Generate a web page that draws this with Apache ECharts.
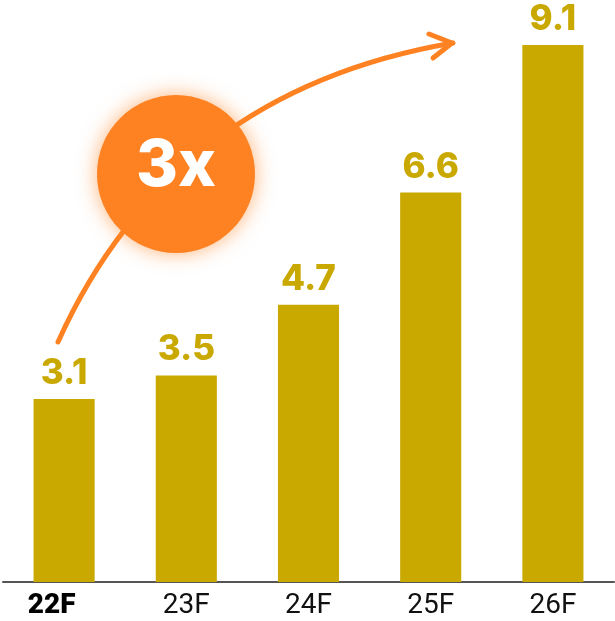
<!DOCTYPE html>
<html>
<head>
<meta charset="utf-8">
<script src="https://cdn.jsdelivr.net/npm/echarts@6/dist/echarts.min.js"></script>
<style>
  html, body { margin: 0; padding: 0; background: #fff; }
  #chart { width: 615px; height: 621px; }
</style>
</head>
<body>
<div id="chart"></div>
<script>
// years (forecast)
const years = ['22F', '23F', '24F', '25F', '26F'];
// values
const values = [3.1, 3.5, 4.7, 6.6, 9.1];
const growthText = '3x';

const gold = '#C9A800';
const orange = '#FF8222';

const chart = echarts.init(document.getElementById('chart'));

const option = {
  animation: false,
  grid: { left: 3, right: 1, top: 45, bottom: 39 },
  xAxis: {
    type: 'category',
    data: years,
    axisTick: { show: false },
    axisLine: { lineStyle: { color: '#555', width: 2 } },
    axisLabel: {
      margin: 10,
      fontFamily: 'Roboto, Liberation Sans, sans-serif',
      fontSize: 28,
      color: '#111',
      formatter: (v, i) => i === 0 ? '{b|' + v + '}' : v,
      rich: {
        b: { fontWeight: 900, fontSize: 28, color: '#000', padding: [0, 25, 0, 0],
          fontFamily: 'Roboto, Liberation Sans, sans-serif' }
      }
    }
  },
  yAxis: {
    type: 'value',
    min: 0,
    max: 9.1,
    show: false
  },
  series: [{
    type: 'bar',
    data: values,
    barWidth: '50%',
    itemStyle: { color: gold },
    label: {
      show: true,
      position: 'top',
      distance: 8,
      color: gold,
      fontFamily: 'Inter, Open Sans, sans-serif',
      fontWeight: 800,
      fontSize: 35
    }
  }],
  graphic: [
    // growth arrow
    {
      type: 'bezierCurve',
      shape: { x1: 58, y1: 342, x2: 453, y2: 43, cpx1: 171, cpy1: 91 },
      style: { stroke: orange, lineWidth: 5, fill: null, lineCap: 'round' },
      z: 10
    },
    {
      type: 'polyline',
      shape: { points: [[429, 34], [452, 43], [433, 58]] },
      style: { stroke: orange, lineWidth: 5, fill: null, lineCap: 'round', lineJoin: 'round' },
      z: 10
    },
    {
      type: 'circle',
      shape: { cx: 176, cy: 174, r: 79 },
      style: { fill: orange, shadowBlur: 20, shadowColor: 'rgba(255,130,34,0.6)' },
      z: 11
    },
    {
      type: 'text',
      x: 176,
      y: 167,
      style: {
        text: growthText,
        fill: '#fff',
        fontFamily: 'Inter, Liberation Sans, sans-serif',
        fontWeight: 800,
        fontSize: 64,
        align: 'center',
        verticalAlign: 'middle'
      },
      z: 12
    }
  ]
};

chart.setOption(option);
</script>
</body>
</html>
